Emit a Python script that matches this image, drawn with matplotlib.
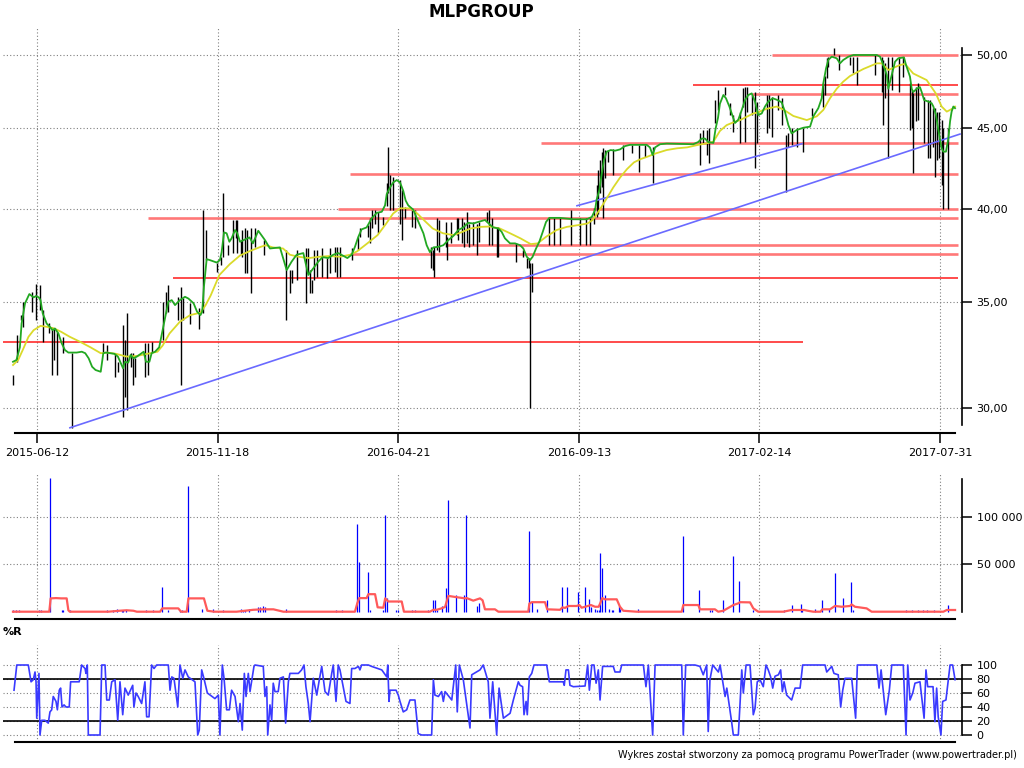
import matplotlib
matplotlib.use('Agg')
import matplotlib.pyplot as plt
from matplotlib.ticker import NullLocator

plt.rcParams['font.family'] = ['DejaVu Sans']

# ---------------- data (x = session index) ----------------
title = "MLPGROUP"
date_ticks = [14, 119, 224, 329, 434, 539]
date_labels = ["2015-06-12", "2015-11-18", "2016-04-21", "2016-09-13", "2017-02-14", "2017-07-31"]
price_ticks = [30, 35, 40, 45, 50]
price_labels = ["30,00", "35,00", "40,00", "45,00", "50,00"]
vol_ticks = [50000, 100000]
vol_labels = ["50 000", "100 000"]
wr_ticks = [0, 20, 40, 60, 80, 100]

# short moving average (green)
green = [(0, 32.09), (2, 32.17), (4, 32.77), (5, 33.91), (7, 34.92), (9.5, 35.39), (12, 35.22), (13.4, 35.29),
         (15, 35.22), (16, 35.08), (17.3, 34.41), (19.6, 33.91), (21.5, 33.75), (23, 33.59), (24.4, 33.67),
         (26.4, 33.43), (28.3, 32.96), (30.2, 32.64), (32.2, 32.52), (37, 32.52), (40, 32.56), (42, 32.49),
         (44, 32.25), (46, 31.86), (48, 31.71), (51, 31.63), (52.5, 32.49), (54, 32.52), (59, 32.46), (61, 32.33),
         (64, 31.79), (65, 32.09), (67, 32.05), (68.4, 32.41), (70, 32.25), (72, 32.33), (76, 32.56), (77.3, 32.09),
         (79.3, 32.09), (80.6, 32.49), (82.6, 32.56), (85, 32.77), (87, 33.59), (89, 34.41), (90.3, 35.00),
         (92.3, 35.08), (94.2, 34.83), (97, 35.08), (100, 35.25), (102, 35.16), (105, 34.92), (107, 34.50),
         (109, 34.33), (110, 34.50), (111, 35.76), (112.6, 37.22), (114.5, 37.17), (118.4, 37.04), (120.3, 37.17),
         (121.3, 37.60), (122.7, 38.69), (124.2, 38.64), (125.8, 38.17), (127.1, 38.36), (129.1, 38.82),
         (130.4, 38.64), (132, 38.17), (135, 38.30), (137.5, 38.41), (139.5, 38.08), (142.6, 38.78), (146.5, 38.26),
         (149.4, 37.80), (155.2, 37.86), (159.1, 36.64), (162, 37.09), (164.9, 37.46), (168.8, 37.55),
         (171.7, 36.38), (174.6, 36.73), (177.5, 37.09), (180, 37.33), (183.3, 37.28), (186.2, 37.46),
         (189.1, 37.55), (192, 37.40), (194.4, 37.28), (196.9, 37.46), (198.8, 37.89), (200.8, 38.45),
         (202.7, 38.86), (205.6, 38.97), (208.5, 39.48), (211.5, 39.80), (214.4, 39.86), (216.3, 40.23),
         (217.3, 40.90), (219.2, 41.29), (221.1, 41.59), (223.1, 41.73), (225, 41.59), (226.9, 41.08),
         (228.3, 40.51), (229.8, 40.23), (232.7, 39.98), (234.3, 39.60), (236.6, 39.09), (238.6, 38.64),
         (240.5, 37.98), (242.4, 37.60), (244.4, 37.86), (247.3, 37.89), (250.2, 37.98), (253.1, 38.26),
         (256, 38.49), (258.9, 38.82), (261.8, 38.97), (264.7, 39.23), (267.6, 39.19), (270.5, 39.28),
         (274.4, 39.39), (276.9, 39.16), (279.2, 38.97), (282.2, 38.91), (284.1, 38.72), (286, 38.36),
         (289, 38.08), (291.9, 38.08), (294.8, 37.98), (296.7, 37.80), (298.7, 37.35), (300.6, 37.17),
         (302.1, 37.35), (304.1, 37.80), (306, 38.17), (308, 38.72), (309.9, 39.28), (311.8, 39.51),
         (318, 39.51), (325.8, 39.43), (333.5, 39.43), (336.5, 39.56), (338.4, 39.96), (339.3, 40.55),
         (340.9, 41.13), (342.2, 42.04), (343.6, 42.96), (345.2, 43.48), (347.5, 43.58), (350, 43.54),
         (352.9, 43.62), (355.8, 43.83), (358.7, 43.91), (368.4, 43.91), (370.3, 43.75), (371.9, 43.27),
         (373.3, 43.75), (376.2, 43.95), (380.1, 43.99), (395.5, 43.95), (398.4, 44.09), (400.4, 44.31),
         (402.3, 44.31), (404.2, 44.09), (407.2, 44.03), (408.5, 44.96), (409.9, 45.67), (411, 46.60),
         (413, 47.19), (414.5, 46.97), (416.5, 46.41), (418.4, 45.76), (419.8, 45.32), (421.7, 45.54),
         (423.7, 46.18), (425.6, 46.85), (427.5, 47.19), (429.5, 47.30), (431.4, 46.74), (433.3, 45.84),
         (435.3, 45.95), (437.2, 46.41), (439.1, 46.74), (441.7, 46.97), (444.4, 46.85), (446.9, 46.69),
         (448.8, 46.07), (450.8, 45.18), (452.7, 44.64), (455.6, 44.86), (459.5, 45.01), (463.4, 45.08),
         (465.3, 45.76), (468.2, 46.30), (470.2, 46.97), (471.1, 47.99), (472.7, 49.04), (474, 49.64),
         (476, 49.88), (478.9, 49.76), (480.8, 49.40), (482.7, 49.64), (485.7, 49.88), (488.6, 50.00),
         (502.2, 50.00), (504.1, 49.88), (506, 49.28), (508, 48.58), (508.9, 47.62), (510.9, 48.58),
         (512.8, 49.52), (514.7, 49.76), (518, 49.83), (519.2, 49.28), (520.5, 48.81), (521.5, 48.46),
         (522.5, 47.62), (523.4, 47.39), (525.4, 47.62), (527.3, 47.73), (528.3, 47.39), (529.7, 46.85),
         (532.2, 46.74), (534.1, 46.63), (535.1, 46.41), (536.6, 45.84), (538, 44.86), (539.9, 43.69),
         (540.9, 43.48), (542.4, 43.48), (543.8, 44.31), (544.8, 45.43), (545.7, 46.07), (546.7, 46.41),
         (547.7, 46.30)]

# long moving average (yellow)
yellow = [(0, 31.94), (3, 32.17), (6, 32.70), (9, 33.27), (12, 33.59), (16, 33.80), (20, 33.75), (24, 33.67),
          (28, 33.51), (33, 33.27), (39, 33.03), (45, 32.77), (51, 32.49), (55, 32.52), (60, 32.46), (66, 32.33),
          (72, 32.36), (78, 32.46), (84, 32.56), (87, 32.85), (91, 33.43), (97, 34.00), (103, 34.33),
          (109, 34.45), (112, 34.83), (115, 35.33), (120, 36.38), (126, 36.95), (132, 37.42), (138, 37.67),
          (144, 37.89), (147, 37.98), (151, 37.86), (157, 37.80), (161, 37.46), (166, 37.35), (172, 37.28),
          (178, 37.35), (184, 37.39), (190, 37.35), (196, 37.46), (200, 37.64), (206, 38.08), (212, 38.54),
          (217, 39.19), (221, 39.76), (225, 40.06), (231, 40.06), (235, 39.76), (240, 39.28), (244, 38.91),
          (250, 38.64), (256, 38.54), (260, 38.67), (266, 38.91), (272, 39.00), (277, 39.02), (283, 38.91),
          (289, 38.64), (295, 38.36), (301, 38.04), (305, 38.08), (310, 38.45), (316, 38.82), (322, 39.00),
          (328, 39.09), (334, 39.19), (337, 39.39), (341, 39.96), (345, 40.61), (349, 41.29), (353, 41.89),
          (357, 42.40), (361, 42.81), (365, 43.02), (368, 43.13), (374, 43.38), (380, 43.58), (386, 43.69),
          (392, 43.75), (398, 43.90), (403, 44.00), (407.2, 44.11), (411, 44.80), (414.9, 45.18),
          (418.6, 45.35), (422.7, 45.51), (426.6, 45.73), (430.4, 45.95), (432.4, 46.00), (438.2, 46.26),
          (444, 46.41), (448, 46.20), (453.7, 45.78), (461.5, 45.51), (467.3, 45.76), (471.1, 46.18),
          (475, 46.97), (478.9, 47.62), (482.6, 48.10), (486.6, 48.50), (494.4, 49.00), (502.2, 49.40),
          (505.1, 49.40), (508.9, 48.93), (515.7, 49.28), (518.6, 49.36), (523.4, 48.68), (531.2, 48.22),
          (536.5, 47.30), (539.9, 46.41), (542.9, 46.07), (546.7, 46.30), (547.7, 46.41)]

# price bars: (session, high, low)
bars = [(0, 31.48, 31.03), (2.5, 33.35, 32.09), (4.5, 34.33, 34.08), (5.6, 35.00, 33.75), (10.9, 35.50, 34.50),
        (13.4, 35.93, 34.08), (15.7, 35.88, 34.58), (17.3, 34.58, 33.03), (21.1, 33.93, 33.44),
        (22.5, 33.75, 31.48), (24, 33.67, 32.17), (25.8, 33.51, 31.48), (28.9, 33.27, 32.49),
        (34.1, 32.49, 29.17), (52.5, 32.96, 32.49), (54.8, 32.87, 32.17), (59.3, 32.49, 31.40),
        (61.2, 32.09, 31.63), (63.8, 33.83, 29.64), (65.1, 33.11, 30.50), (66.5, 34.41, 29.93),
        (68.4, 32.49, 31.86), (69.9, 32.49, 31.03), (70.9, 32.26, 31.40), (76.7, 32.96, 31.40),
        (78.7, 32.96, 31.48), (80.6, 33.03, 32.56), (87.4, 35.00, 33.11), (89, 35.50, 34.41),
        (90.3, 35.85, 34.50), (96.1, 35.25, 34.08), (97.5, 35.76, 31.03), (98.7, 35.18, 34.08),
        (102.9, 34.92, 33.91), (108.1, 34.66, 33.67), (110.6, 39.96, 34.41), (112, 38.82, 37.17),
        (118.4, 36.99, 36.55), (120.9, 37.35, 36.90), (122.3, 40.93, 37.35), (125.2, 37.98, 37.46),
        (128.1, 39.39, 37.55), (129.7, 39.39, 38.36), (130.4, 39.39, 37.55), (132.4, 38.26, 37.51),
        (133, 38.82, 37.35), (134.9, 38.91, 36.46), (135.9, 38.82, 36.46), (138.2, 38.91, 35.42),
        (140.7, 38.91, 37.89), (146.1, 38.26, 37.46), (158.7, 37.71, 34.08), (161, 36.64, 35.42),
        (162, 36.64, 35.95), (164.9, 37.71, 36.11), (170.3, 37.80, 34.92), (171.7, 37.80, 36.46),
        (172.7, 36.64, 35.42), (173.7, 36.11, 35.42), (175, 37.71, 36.11), (176.9, 37.71, 36.29),
        (179.5, 37.80, 36.29), (182.7, 37.26, 36.20), (184.3, 37.80, 36.46), (187.2, 37.89, 36.55),
        (188.6, 37.89, 36.29), (190.1, 37.89, 36.29), (196.9, 37.80, 37.17), (200.8, 38.45, 37.71),
        (201.7, 38.91, 38.45), (206.6, 39.11, 38.45), (207.6, 39.48, 38.08), (208.5, 39.96, 38.91),
        (210.5, 39.96, 39.19), (212.4, 39.86, 38.64), (215.3, 39.58, 39.09), (217.3, 41.53, 40.19),
        (218.2, 43.79, 40.93), (219.2, 42.04, 39.96), (220.7, 41.93, 39.96), (225, 41.73, 39.19),
        (226.3, 41.13, 38.26), (227.9, 40.15, 39.48), (231.8, 40.06, 39.00), (233.7, 39.96, 38.91),
        (242.8, 37.89, 36.73), (244, 37.71, 36.64), (244.8, 37.89, 36.29), (246.3, 39.48, 37.71),
        (247.9, 39.39, 37.62), (251.6, 39.29, 37.89), (252.5, 38.45, 37.17), (254.5, 39.29, 38.08),
        (258, 39.48, 38.54), (258.9, 39.48, 38.26), (260.9, 39.48, 38.08), (262.2, 39.29, 37.89),
        (263.8, 39.86, 38.08), (265.3, 39.19, 37.89), (267.6, 39.29, 37.98), (269.6, 39.19, 37.46),
        (271.1, 39.29, 38.17), (275.4, 39.86, 39.29), (276.9, 39.96, 37.98), (278.3, 39.48, 37.98),
        (281.2, 39.00, 37.35), (282.2, 39.00, 37.35), (292.4, 38.08, 37.08), (296.7, 37.71, 37.35),
        (299, 37.26, 36.73), (300.2, 37.26, 36.73), (300.6, 36.99, 30.00), (301.6, 36.99, 35.50),
        (311.8, 39.48, 37.98), (314.4, 39.48, 37.98), (318.2, 39.48, 37.98), (324.4, 39.96, 37.98),
        (329.7, 39.48, 37.98), (333.1, 39.48, 37.98), (335.5, 39.48, 37.98), (337.8, 40.06, 39.19),
        (339.3, 41.43, 39.58), (340.3, 42.34, 39.76), (341.3, 42.96, 40.93), (342.2, 43.48, 41.33),
        (343.2, 43.69, 39.48), (344.2, 43.58, 41.83), (346.1, 43.58, 42.86), (349, 43.62, 42.04),
        (354.8, 43.90, 42.96), (359.7, 43.90, 43.37), (364.1, 43.90, 42.24), (367.4, 43.90, 43.16),
        (372.3, 43.79, 41.53), (399.4, 44.64, 42.66), (401, 44.86, 44.00), (403.3, 44.86, 43.27),
        (404.8, 44.97, 42.76), (408.1, 46.85, 45.32), (410.1, 47.53, 46.18), (414, 47.75, 47.19),
        (416.9, 46.63, 45.84), (418.8, 45.84, 44.75), (422.7, 46.07, 44.00), (424.2, 47.64, 46.41),
        (425.6, 47.75, 44.09), (426.9, 47.75, 46.07), (429.5, 47.19, 45.84), (431.4, 47.41, 42.44),
        (432.4, 46.74, 44.00), (438.2, 47.19, 44.64), (439.5, 47.19, 44.97), (441.1, 47.08, 44.41),
        (445, 47.19, 46.18), (446.9, 46.96, 45.18), (449.4, 44.54, 41.03), (450.8, 44.64, 43.79),
        (452.7, 44.97, 43.90), (456, 44.97, 43.79), (459.5, 44.97, 43.48), (464.3, 46.30, 45.76),
        (471.1, 47.99, 46.41), (472.1, 48.47, 47.19), (473.1, 49.76, 48.33), (474, 49.88, 49.16),
        (477.3, 50.49, 50.00), (480.4, 50.00, 48.93), (486.6, 49.88, 49.28), (488.5, 49.88, 48.69),
        (490.5, 49.88, 47.88), (501.2, 50.00, 48.58), (505, 49.88, 47.41), (506, 49.64, 45.18),
        (507, 49.40, 46.96), (508.9, 49.88, 43.06), (510.9, 49.88, 47.53), (515.1, 49.88, 47.41),
        (517.6, 49.88, 48.46), (521.5, 47.99, 44.86), (522.5, 47.53, 44.97), (523.4, 47.30, 42.14),
        (525, 47.75, 45.43), (526.3, 47.99, 45.51), (529.8, 47.08, 44.00), (532.1, 46.85, 43.06),
        (533.1, 46.85, 43.06), (534.7, 46.30, 43.79), (536, 46.30, 41.93), (537, 46.07, 42.96),
        (538.5, 46.07, 43.06), (539.9, 45.51, 41.43), (540.9, 44.97, 40.03), (543.8, 44.97, 40.03)]

# support / resistance lines: (level, start session, end session, strong)
levels = [(50.00, 441.3, 549.4, False), (47.88, 395.3, 549.4, True), (47.28, 429.7, 549.4, False),
          (44.00, 307.0, 549.4, False), (42.10, 195.9, 549.4, False), (40.00, 189.0, 549.4, False),
          (39.50, 78.5, 549.4, False), (38.00, 252.3, 549.4, False), (37.50, 195.9, 549.4, False),
          (36.20, 93.0, 549.4, True), (33.00, -5.8, 459.3, True)]

# trend lines: ((session, price), (session, price))
trends = [((33.1, 29.17), (550.6, 44.60)), ((327.9, 40.21), (458.7, 43.98))]

# volume: (session, volume)
volume = [(0, 1800), (1.7, 1800), (3.7, 1800), (15.3, 1800), (16.3, 1800), (21.7, 140400), (28.3, 1800),
          (29.2, 1800), (33.3, 1800), (54.5, 1800), (58.3, 1800), (60.6, 2800), (63.2, 1800), (64.1, 1800),
          (65.7, 1800), (77.5, 1800), (81.6, 1800), (86.8, 26300), (90.3, 1800), (97.1, 1800), (98.1, 1800),
          (102, 132400), (110.1, 2800), (116.5, 2800), (121.9, 1800), (132.4, 2800), (133.5, 1800),
          (134.9, 1800), (137.4, 2800), (142.6, 5200), (143.6, 5200), (145.2, 6300), (146.7, 5200),
          (158.5, 2800), (188, 1800), (191.1, 1800), (200.2, 92100), (201.3, 52500), (206.5, 42000),
          (207.6, 1800), (215.3, 1800), (216.5, 101600), (217.3, 14000), (222.5, 1800), (223.7, 1800),
          (232.2, 1800), (233.7, 1800), (241.5, 1800), (244.4, 12300), (245.5, 12300), (246.3, 1800),
          (249.6, 6000), (251.9, 25200), (253.1, 117300), (257.4, 17500), (262.4, 17500), (263.6, 101600),
          (269.8, 6000), (271, 9000), (300.2, 84800), (301.6, 9900), (304.5, 3000), (310.6, 12300),
          (319.4, 26300), (322.3, 26300), (328.7, 20400), (332.7, 26300), (335, 13300), (336.2, 5200),
          (338.2, 2800), (339.3, 1800), (340.5, 1800), (341.5, 62000), (342.6, 45900), (344.3, 17500),
          (346.3, 2800), (348.1, 1800), (348.7, 1800), (352.1, 6000), (353.1, 2800), (363.6, 2800),
          (389.7, 79500), (399, 22800), (405.4, 1800), (406.6, 1800), (413, 12300), (418.8, 58500),
          (422.3, 32200), (430.4, 1800), (448.4, 1800), (452.7, 7000), (457.9, 8200), (458.9, 1800),
          (466.5, 2800), (470.5, 12300), (474.6, 2800), (478.1, 40600), (482.4, 14400), (487.4, 31200),
          (488.5, 1800), (519, 1800), (522.9, 1800), (526.3, 1800), (529.2, 1800), (531.6, 1800),
          (535.6, 1800), (543.4, 7000)]

# volume moving average (red)
volume_ma = [(0, 0), (21.1, 0), (21.9, 14000), (25, 14300), (28, 14000), (31.2, 14000), (32.2, 1500), (33, 0),
             (55.4, 0), (62, 1000), (66, 1500), (70, 1000), (72, 0), (85.5, 0), (86.8, 3500), (96.1, 3500),
             (97.7, 0), (101, 0), (102, 14000), (111, 14000), (113, 1000), (117, 0), (130, 0), (139.7, 2000),
             (145, 2500), (151.4, 2500), (157.2, 0), (198.8, 0), (200.2, 9000), (201.3, 14300), (205.6, 14300),
             (206.6, 18400), (210.5, 18400), (212, 4600), (215.3, 4200), (216.4, 14000), (218.2, 10700),
             (226, 10700), (227.3, 0), (242.4, 0), (244.4, 2000), (246.3, 2000), (249.2, 3500), (251.2, 5000),
             (253.1, 16600), (257, 15500), (262.8, 14000), (263.8, 14300), (267.6, 11600), (271.5, 14000),
             (273, 12000), (274.4, 2500), (280.2, 2500), (282.2, 0), (299.6, 0), (300.2, 8500), (301.6, 10000),
             (309.3, 10000), (310.6, 2500), (318, 2000), (319.4, 4500), (321, 4000), (322.9, 6000),
             (327.7, 6000), (329.3, 7000), (330.6, 4200), (332.7, 5200), (336, 7000), (338.4, 5200),
             (340.5, 5200), (341.5, 9200), (342.6, 14300), (344.2, 13000), (351, 13000), (352.9, 5200),
             (354.8, 1000), (362.6, 0), (388.8, 0), (389.7, 7000), (398.4, 7000), (399.4, 2500), (408.1, 2500),
             (410, 0), (413, 1000), (418.8, 7000), (421.7, 8800), (422.7, 10000), (428.5, 9800), (430.4, 3500),
             (433.3, 0), (447.9, 0), (452.7, 1800), (460, 1800), (462, 1000), (465.3, 0), (469.5, 0),
             (470.5, 2500), (475, 2500), (477.9, 6000), (481.8, 5200), (486.6, 6000), (487.6, 7600),
             (489.5, 5200), (496.3, 3500), (499.2, 0), (540.9, 0), (542.9, 1800), (547.7, 1800)]

# Williams %R
williams_r = [(0.6, 64), (2.2, 100), (8.9, 100), (10.5, 76), (11.8, 79), (12.8, 90), (13.4, 76), (13.8, 24),
              (15.1, 88), (15.7, 0), (16.7, 21), (18.6, 21), (20.5, 17), (21.5, 33), (22.5, 36), (23.4, 55),
              (25, 48), (25.8, 36), (26.9, 64), (27.7, 67), (28.5, 40), (29.7, 43), (30.8, 40), (32.7, 40),
              (33.5, 76), (38.5, 76), (39.9, 100), (41.9, 95), (42.4, 88), (43.2, 100), (43.8, 0), (50.6, 0),
              (51.6, 100), (53.5, 100), (54.5, 50), (56, 50), (57.4, 76), (59.3, 79), (60.9, 21), (62.2, 76),
              (63.8, 29), (65.1, 67), (66.1, 62), (67, 57), (69.6, 71), (70.3, 40), (71.5, 60), (72.8, 55),
              (74.8, 45), (76.7, 76), (77.7, 26), (79.1, 26), (80.6, 100), (82, 95), (83.5, 100), (90.3, 100),
              (91.3, 64), (92.3, 83), (93.6, 81), (95.8, 40), (97.1, 100), (98.7, 81), (100, 93), (101.9, 83),
              (105.8, 76), (107.4, 0), (108.3, 7), (109.7, 93), (111, 81), (113, 60), (117.4, 52), (119.4, 57),
              (120.3, 0), (121.7, 100), (122.7, 81), (124.2, 36), (125.8, 36), (127.1, 64), (129.1, 55),
              (131, 19), (132, 45), (133.3, 7), (134.5, 88), (135.5, 55), (136.8, 88), (137.8, 62), (140.1, 98),
              (140.7, 100), (145.5, 98), (146.5, 55), (147.5, 69), (148.1, 0), (149.4, 43), (150.4, 21),
              (151.3, 74), (152.3, 62), (154.2, 62), (155.2, 81), (157.2, 83), (158.5, 17), (160.1, 76),
              (161, 88), (163, 88), (165.9, 88), (167.8, 93), (169.2, 100), (170.3, 69), (171.7, 45),
              (172.7, 19), (173.7, 52), (174.6, 81), (176.6, 57), (178.1, 79), (179.5, 98), (180.4, 81),
              (181.4, 62), (183.3, 57), (185.3, 88), (186.2, 100), (187.8, 48), (189.1, 100), (190.1, 93),
              (192, 69), (193.6, 48), (195.9, 45), (196.9, 95), (198.8, 95), (200.8, 98), (201.7, 93),
              (202.7, 100), (206.6, 100), (208.5, 98), (214.4, 93), (217.3, 83), (217.9, 100), (218.6, 48),
              (219.2, 64), (222.7, 64), (224, 57), (225, 48), (226.9, 33), (228.9, 36), (230.8, 50),
              (233.7, 50), (235.6, 2), (237.6, 0), (243.4, 0), (244.4, 79), (245.3, 57), (247.3, 55),
              (249.2, 62), (250.2, 48), (251.2, 62), (255.1, 50), (257.4, 100), (258.3, 33), (259.5, 100),
              (261.8, 79), (265.7, 10), (266.7, 86), (271.5, 93), (273.4, 100), (276.3, 76), (277.3, 24),
              (278.9, 76), (281.2, 0), (282.6, 67), (285.1, 24), (289, 31), (290.9, 50), (293.8, 76),
              (294.8, 71), (296.3, 69), (297.1, 29), (298.3, 48), (299, 29), (300.2, 83), (301.6, 88),
              (302.9, 100), (310.3, 100), (311.8, 76), (319.9, 76), (320.5, 71), (321.5, 93), (322.9, 93),
              (323.8, 71), (325.8, 69), (332.6, 70), (334.1, 100), (335.1, 64), (336.5, 100), (337.8, 100),
              (339, 74), (340.3, 93), (341.3, 50), (342.8, 98), (345.5, 98), (349, 98), (350, 90), (352.9, 90),
              (353.9, 100), (366.5, 100), (368, 69), (369.4, 100), (371.9, 0), (373.3, 100), (388.8, 100),
              (389.7, 0), (391.1, 100), (396.5, 100), (399.4, 98), (401.3, 86), (403.3, 100), (404.2, 5),
              (405.2, 79), (406.8, 100), (410.1, 90), (411.1, 100), (414, 55), (415, 67), (417.9, 17),
              (418.8, 0), (421.7, 0), (422.7, 45), (423.7, 93), (424.6, 60), (426.2, 100), (428.5, 100),
              (430.4, 29), (431.4, 38), (432.7, 76), (434.3, 79), (436.2, 69), (437.8, 100), (439.1, 93),
              (440.5, 83), (441.7, 67), (443, 84), (445, 86), (446.3, 93), (447.3, 62), (448.3, 76),
              (449.8, 57), (452.7, 50), (454.7, 67), (457.6, 67), (459.1, 100), (472.1, 100), (473.1, 90),
              (476, 98), (477.3, 88), (479.8, 86), (481.2, 40), (482.4, 64), (483.7, 81), (487.6, 81),
              (489.9, 24), (490.9, 100), (502.2, 100), (503.5, 67), (504.7, 93), (506, 62), (507.4, 29),
              (509.5, 64), (510.9, 100), (517.6, 100), (519.2, 0), (520.2, 100), (521.5, 50), (523.1, 60),
              (524.4, 74), (527.3, 76), (529.7, 24), (530.8, 93), (531.8, 69), (534.9, 69), (536, 19),
              (537, 67), (537.9, 26), (539.5, 0), (540.5, 48), (542.4, 50), (544.8, 100), (546.3, 100),
              (547.7, 79)]

footer = "Wykres został stworzony za pomocą programu PowerTrader (www.powertrader.pl)"

# ---------------- layout ----------------
W, H = 1024, 768
fig = plt.figure(figsize=(W / 100, H / 100), dpi=100)
fig.patch.set_facecolor('white')


def rect(l, t, r, b):
    return [l / W, 1 - b / H, (r - l) / W, (b - t) / H]


ax = fig.add_axes(rect(3, 28, 962, 433))
axv = fig.add_axes(rect(3, 474, 962, 619.3), sharex=ax)
axr = fig.add_axes(rect(3, 645, 962, 742.3), sharex=ax)

GRID = dict(color='#808080', linestyle=(0, (1, 2)), linewidth=0.8)
XSPAN = (1.2, 547.7)

for a in (ax, axv, axr):
    a.set_facecolor('white')
    a.spines['left'].set_visible(False)
    a.spines['top'].set_visible(False)
    a.spines['right'].set_linewidth(1.2)
    a.spines['bottom'].set_linewidth(1.5)
    a.spines['bottom'].set_bounds(*XSPAN)
    a.yaxis.tick_right()
    a.tick_params(axis='y', which='major', direction='out', length=7, width=1.1, pad=3.5, labelsize=8)
    a.grid(True, **GRID)
    a.set_axisbelow(True)

# ---- price panel ----
ax.set_yscale('log')
ax.set_xlim(-5.81, 551.74)
ax.set_ylim(28.95, 51.99)
ax.set_yticks(price_ticks)
ax.set_yticklabels(price_labels)
ax.yaxis.set_minor_locator(NullLocator())
ax.spines['right'].set_bounds(29.28, 50.51)
ax.set_xticks(date_ticks)
ax.set_xticklabels(date_labels)
ax.tick_params(axis='x', direction='out', length=7, width=1.1, pad=4, labelsize=8)

for lvl, x0, x1, strong in levels:
    if strong:
        ax.hlines(lvl, x0, x1, color='#ff1a1a', lw=1.1, zorder=2)
    else:
        ax.hlines(lvl, x0, x1, color='#ff7878', lw=1.9, zorder=2)

bx = [b[0] for b in bars]
bh = [b[1] for b in bars]
bl = [b[2] for b in bars]
ax.vlines(bx, bl, bh, color='black', lw=1.0, zorder=3)

for (x0, y0), (x1, y1) in trends:
    ax.plot([x0, x1], [y0, y1], color='#6a6aff', lw=1.2, zorder=4)

ax.plot([p[0] for p in yellow], [p[1] for p in yellow], color='#dada2a', lw=1.3, zorder=5)
ax.plot([p[0] for p in green], [p[1] for p in green], color='#22a822', lw=1.3, zorder=6)

# ---- volume panel ----
axv.set_ylim(-7983, 144643)
axv.set_yticks(vol_ticks)
axv.set_yticklabels(vol_labels)
axv.spines['right'].set_bounds(0, 139400)
axv.tick_params(axis='x', length=0, labelbottom=False)
axv.vlines([v[0] for v in volume], 0, [v[1] for v in volume], color='#0000ff', lw=0.9, zorder=3)
axv.plot([p[0] for p in volume_ma], [p[1] for p in volume_ma], color='#ff5a5a', lw=1.6, zorder=4)

# ---- %R panel ----
axr.set_ylim(-10.43, 128.57)
axr.set_yticks(wr_ticks)
axr.spines['right'].set_bounds(0, 100)
axr.tick_params(axis='x', length=0, labelbottom=False)
axr.axhline(80, color='black', lw=1.2, zorder=2)
axr.axhline(20, color='black', lw=1.2, zorder=2)
axr.plot([p[0] for p in williams_r], [p[1] for p in williams_r], color='#3a3aff', lw=1.2, zorder=3)

# ---- texts ----
fig.text(481.5 / W, 1 - 12 / H, title, ha='center', va='center', fontsize=12, fontweight='bold')
fig.text(3 / W, 1 - 632 / H, "%R", ha='left', va='center', fontsize=8, fontweight='bold')
fig.text(1017 / W, 1 - 755 / H, footer, ha='right', va='center', fontsize=7)

fig.savefig('out.png', dpi=100)
